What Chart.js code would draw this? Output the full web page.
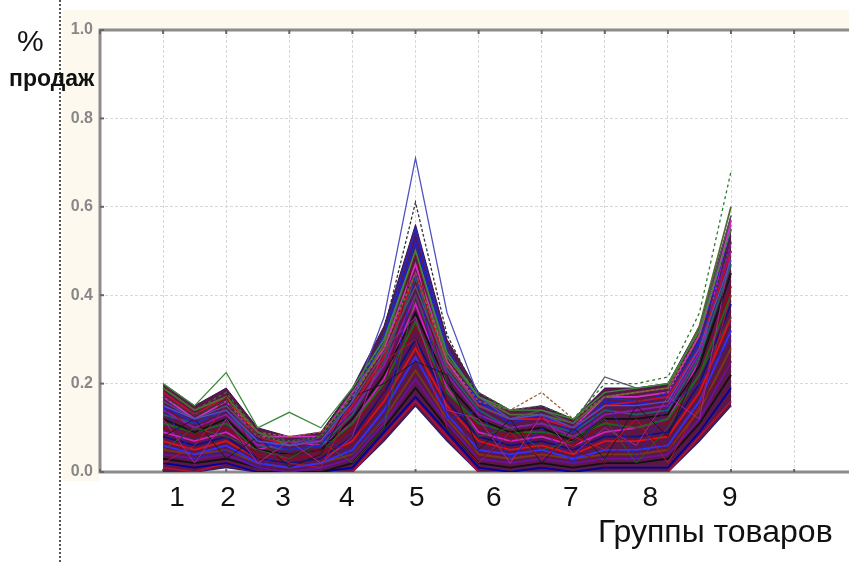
<!doctype html>
<html lang="ru">

<head>
    <meta charset="utf-8">
    <script src="https://cdn.jsdelivr.net/npm/chart.js@4.4.1/dist/chart.umd.min.js"></script>
    <title>% продаж по группам товаров</title>
    <style>
        body { margin: 0; width: 849px; height: 562px; background: #fff; position: relative; overflow: hidden;
               font-family: "Liberation Sans", Arial, sans-serif; }
        .beige { position: absolute; background: #fdf9ee; }
        .dots { position: absolute; left: 59px; top: 0; height: 562px; border-left: 2px dotted #555; }
        .txt { position: absolute; line-height: 1; white-space: nowrap; color: #111; }
        #wrap { position: absolute; left: 0; top: 0; width: 849px; height: 562px; }
    </style>
</head>

<body>
    <div class="beige" style="left:62px;top:10px;width:787px;height:19px"></div>
    <div class="beige" style="left:62px;top:29px;width:37px;height:452px"></div>
    <div class="dots"></div>
    <div id="wrap"><canvas id="myChart" width="849" height="562"></canvas></div>
    <div class="txt" style="left:17px;top:26px;font-size:30px">%</div>
    <div class="txt" style="left:9px;top:67px;font-size:23px;font-weight:bold">продаж</div>
    <div class="txt" style="left:598px;top:515px;font-size:32px">Группы товаров</div>
    <div id="groups"></div>

    <script>
        // positions along x in grid units (gridline 1 = first point, 10 = last)
        var xPos = [1, 1.5, 2, 2.5, 3, 3.5, 4, 4.5, 5, 5.5, 6, 6.5, 7, 7.5, 8, 8.5, 9, 9.5, 10];
        var groupLabels = ['1', '2', '3', '4', '5', '6', '7', '8', '9'];
        var groupLabelPos = [1.22, 2.03, 2.9, 3.91, 5.02, 6.24, 7.46, 8.72, 9.98];
        var yTicks = [0, 0.2, 0.4, 0.6, 0.8, 1.0];

        // outline of the dense bundle
        var bandTop = [0.20, 0.15, 0.19, 0.10, 0.08, 0.09, 0.19, 0.33, 0.56, 0.30, 0.18, 0.14, 0.15, 0.12, 0.19, 0.19, 0.20, 0.33, 0.58];
        var bandBottom = [0.00, 0.00, 0.01, 0.00, 0.00, 0.00, 0.00, 0.07, 0.15, 0.07, 0.00, 0.00, 0.00, 0.00, 0.00, 0.00, 0.00, 0.07, 0.15];

        // individual profiles inside the bundle
        var s1 = [0.18, 0.13, 0.17, 0.08, 0.06, 0.07, 0.15, 0.26, 0.45, 0.24, 0.15, 0.12, 0.12, 0.10, 0.15, 0.16, 0.17, 0.28, 0.50];
        var s2 = [0.16, 0.12, 0.15, 0.07, 0.05, 0.06, 0.17, 0.30, 0.52, 0.27, 0.16, 0.11, 0.13, 0.09, 0.16, 0.15, 0.18, 0.30, 0.55];
        var s3 = [0.14, 0.10, 0.13, 0.06, 0.07, 0.07, 0.14, 0.24, 0.40, 0.22, 0.13, 0.10, 0.11, 0.08, 0.13, 0.14, 0.15, 0.27, 0.52];
        var s4 = [0.12, 0.09, 0.12, 0.05, 0.04, 0.05, 0.12, 0.22, 0.36, 0.20, 0.12, 0.09, 0.10, 0.07, 0.12, 0.12, 0.13, 0.24, 0.45];
        var s5 = [0.10, 0.08, 0.10, 0.04, 0.03, 0.04, 0.10, 0.20, 0.33, 0.18, 0.10, 0.08, 0.09, 0.06, 0.11, 0.11, 0.11, 0.22, 0.42];
        var s6 = [0.09, 0.07, 0.09, 0.05, 0.07, 0.06, 0.11, 0.21, 0.38, 0.19, 0.09, 0.07, 0.08, 0.06, 0.09, 0.10, 0.12, 0.25, 0.57];
        var s7 = [0.08, 0.06, 0.08, 0.03, 0.02, 0.03, 0.08, 0.18, 0.30, 0.16, 0.08, 0.06, 0.07, 0.05, 0.08, 0.08, 0.09, 0.20, 0.38];
        var s8 = [0.11, 0.09, 0.11, 0.05, 0.04, 0.05, 0.11, 0.20, 0.34, 0.18, 0.11, 0.09, 0.09, 0.08, 0.11, 0.10, 0.12, 0.22, 0.40];
        var s9 = [0.07, 0.05, 0.07, 0.03, 0.02, 0.03, 0.07, 0.16, 0.28, 0.15, 0.07, 0.05, 0.06, 0.04, 0.07, 0.07, 0.08, 0.18, 0.35];
        var s10 = [0.06, 0.04, 0.06, 0.02, 0.01, 0.02, 0.05, 0.14, 0.26, 0.13, 0.05, 0.04, 0.05, 0.03, 0.05, 0.05, 0.06, 0.16, 0.32];
        var s11 = [0.05, 0.04, 0.05, 0.02, 0.01, 0.02, 0.04, 0.12, 0.23, 0.12, 0.04, 0.03, 0.04, 0.03, 0.04, 0.04, 0.05, 0.14, 0.28];
        var s12 = [0.04, 0.03, 0.04, 0.01, 0.00, 0.01, 0.03, 0.11, 0.21, 0.11, 0.03, 0.02, 0.03, 0.02, 0.03, 0.03, 0.04, 0.12, 0.25];
        var s13 = [0.03, 0.02, 0.03, 0.01, 0.00, 0.00, 0.02, 0.10, 0.19, 0.10, 0.02, 0.01, 0.02, 0.01, 0.02, 0.02, 0.03, 0.11, 0.22];
        var s14 = [0.02, 0.01, 0.02, 0.00, 0.00, 0.00, 0.01, 0.09, 0.17, 0.09, 0.01, 0.00, 0.01, 0.00, 0.01, 0.01, 0.01, 0.09, 0.19];
        var s15 = [0.01, 0.00, 0.02, 0.00, 0.00, 0.00, 0.00, 0.08, 0.16, 0.08, 0.00, 0.00, 0.00, 0.00, 0.00, 0.00, 0.00, 0.08, 0.16];
        var s16 = [0.13, 0.11, 0.14, 0.06, 0.05, 0.06, 0.13, 0.25, 0.44, 0.23, 0.14, 0.10, 0.11, 0.09, 0.14, 0.13, 0.14, 0.26, 0.47];
        var s17 = [0.15, 0.11, 0.14, 0.07, 0.06, 0.07, 0.16, 0.31, 0.55, 0.28, 0.16, 0.12, 0.13, 0.10, 0.17, 0.16, 0.17, 0.29, 0.50];
        var s18 = [0.17, 0.12, 0.16, 0.08, 0.08, 0.08, 0.18, 0.28, 0.47, 0.25, 0.15, 0.12, 0.12, 0.10, 0.17, 0.17, 0.18, 0.31, 0.56];
        var s19 = [0.19, 0.14, 0.17, 0.09, 0.06, 0.08, 0.17, 0.29, 0.50, 0.26, 0.17, 0.13, 0.13, 0.11, 0.17, 0.18, 0.19, 0.33, 0.60];

        // profiles that cross the others
        var c1 = [0.02, 0.06, 0.15, 0.07, 0.02, 0.01, 0.15, 0.25, 0.30, 0.10, 0.02, 0.09, 0.03, 0.08, 0.05, 0.12, 0.02, 0.15, 0.40];
        var c2 = [0.15, 0.03, 0.05, 0.01, 0.06, 0.08, 0.04, 0.12, 0.45, 0.12, 0.14, 0.03, 0.10, 0.02, 0.17, 0.03, 0.15, 0.20, 0.30];
        var c3 = [0.08, 0.12, 0.03, 0.08, 0.01, 0.04, 0.17, 0.20, 0.25, 0.22, 0.05, 0.12, 0.02, 0.10, 0.03, 0.15, 0.08, 0.25, 0.45];
        var c4 = [0.12, 0.02, 0.12, 0.02, 0.07, 0.02, 0.08, 0.28, 0.35, 0.14, 0.12, 0.02, 0.13, 0.04, 0.10, 0.06, 0.17, 0.12, 0.50];
        var c5 = [0.05, 0.10, 0.08, 0.05, 0.03, 0.07, 0.02, 0.10, 0.40, 0.20, 0.08, 0.10, 0.05, 0.07, 0.12, 0.02, 0.10, 0.22, 0.35];
        var c6 = [0.16, 0.08, 0.17, 0.03, 0.04, 0.05, 0.06, 0.18, 0.50, 0.16, 0.03, 0.07, 0.12, 0.05, 0.02, 0.10, 0.05, 0.15, 0.25];

        // outliers above the bundle
        var greenTop = [0.20, 0.15, 0.225, 0.10, 0.135, 0.10, 0.19, 0.30, 0.50, 0.27, 0.17, 0.14, 0.14, 0.12, 0.18, 0.19, 0.20, 0.32, 0.55];
        var peakHigh = [0.15, 0.12, 0.14, 0.07, 0.06, 0.07, 0.16, 0.35, 0.71, 0.36, 0.17, 0.12, 0.13, 0.10, 0.15, 0.15, 0.16, 0.28, 0.48];
        var peakSecond = [0.17, 0.13, 0.16, 0.08, 0.07, 0.08, 0.17, 0.32, 0.61, 0.31, 0.17, 0.12, 0.13, 0.10, 0.16, 0.16, 0.18, 0.30, 0.52];
        var dashedEnd = [0.19, 0.14, 0.18, 0.09, 0.07, 0.08, 0.18, 0.30, 0.45, 0.26, 0.18, 0.14, 0.15, 0.12, 0.20, 0.20, 0.215, 0.36, 0.68];
        var brownSeven = [0.17, 0.13, 0.16, 0.09, 0.08, 0.09, 0.17, 0.28, 0.45, 0.25, 0.16, 0.14, 0.18, 0.12, 0.17, 0.18, 0.19, 0.31, 0.55];
        var greyEight = [0.16, 0.12, 0.15, 0.08, 0.07, 0.08, 0.16, 0.27, 0.42, 0.24, 0.15, 0.12, 0.14, 0.11, 0.215, 0.19, 0.20, 0.32, 0.58];

        function pts(vals) {
            return vals.map(function (v, i) { return { x: xPos[i], y: v }; });
        }

        var lines = [
            [s19, '#556b2f'], [s1, '#c0102a'], [s18, '#d030c8'], [s2, '#2020d0'], [s17, '#2828b8'],
            [s3, '#8a1ab0'], [s16, '#1f5f6a'], [s4, '#111111'], [s8, '#1a6a1a'], [s5, '#8b0a1a'],
            [s6, '#d020c0'], [s7, '#101080'], [s9, '#e01010'], [s10, '#3030ff'], [s11, '#7a3a10'],
            [s12, '#6a10a0'], [s13, '#111111'], [s14, '#0000a0'], [s15, '#b01030']
        ];
        var crossing = [
            [c1, '#b01828'], [c2, '#2424c0'], [c3, '#1a1a1a'], [c4, '#a02898'], [c5, '#2d5b2d'], [c6, '#800c1c']
        ];
        var outliers = [
            [greenTop, '#3c8c3c', []], [peakHigh, '#5050c0', []], [peakSecond, '#333333', [3, 2]],
            [dashedEnd, '#2f7a2f', [3, 3]], [brownSeven, '#a0603a', [3, 2]], [greyEight, '#555566', []]
        ];

        var datasets = [];
        outliers.forEach(function (o) {
            datasets.push({ data: pts(o[0]), borderColor: o[1], borderWidth: 1.3, borderDash: o[2], order: 0 });
        });
        crossing.forEach(function (l) {
            datasets.push({ data: pts(l[0]), borderColor: l[1], borderWidth: 1, order: 1 });
        });
        lines.forEach(function (l) {
            datasets.push({ data: pts(l[0]), borderColor: l[1], borderWidth: 1.8, order: 1 });
        });
        datasets.push({ data: pts(bandTop), borderColor: '#3a1050', borderWidth: 1, backgroundColor: '#5a1848', fill: '+1', order: 2 });
        datasets.push({ data: pts(bandBottom), borderColor: '#1a1a80', borderWidth: 1.5, order: 2 });

        // plot frame: top, left and bottom lines with small tick marks
        var frame = {
            id: 'frame',
            beforeDatasetsDraw: function (chart) {
                var a = chart.chartArea, c = chart.ctx, x = chart.scales.x, y = chart.scales.y;
                c.save();
                c.strokeStyle = '#8c8c8c';
                c.lineWidth = 3;
                c.beginPath();
                c.moveTo(a.right, a.top); c.lineTo(a.left, a.top);
                c.lineTo(a.left, a.bottom); c.lineTo(a.right, a.bottom);
                c.stroke();
                c.strokeStyle = '#666';
                c.lineWidth = 2;
                x.ticks.forEach(function (t) {
                    var px = x.getPixelForValue(t.value);
                    c.beginPath(); c.moveTo(px, a.top); c.lineTo(px, a.top + 4); c.stroke();
                    c.beginPath(); c.moveTo(px, a.bottom); c.lineTo(px, a.bottom - 3); c.stroke();
                });
                y.ticks.forEach(function (t) {
                    var py = y.getPixelForValue(t.value);
                    c.beginPath(); c.moveTo(a.left, py); c.lineTo(a.left + 4, py); c.stroke();
                });
                c.restore();
            }
        };

        var chart = new Chart(document.getElementById('myChart').getContext('2d'), {
            type: 'line',
            data: { datasets: datasets },
            options: {
                responsive: false,
                animation: false,
                layout: { padding: { top: 30, bottom: 90, left: 0, right: 0 } },
                elements: { point: { radius: 0 }, line: { tension: 0 } },
                plugins: { legend: { display: false }, tooltip: { enabled: false } },
                scales: {
                    x: {
                        type: 'linear', min: 0, max: 11.87,
                        ticks: { display: false, stepSize: 1, includeBounds: false },
                        grid: { color: '#d8d8d8', drawTicks: false },
                        border: { display: false, dash: [3, 2] },
                        afterFit: function (s) { s.height = 0; }
                    },
                    y: {
                        min: 0, max: 1,
                        afterBuildTicks: function (s) { s.ticks = yTicks.map(function (v) { return { value: v }; }); },
                        ticks: {
                            padding: 7, color: '#888888',
                            font: { family: 'Liberation Sans', size: 16, weight: 'bold' },
                            callback: function (v) { return v.toFixed(1); }
                        },
                        grid: { color: '#d8d8d8', drawTicks: false },
                        border: { display: false, dash: [3, 2] },
                        afterFit: function (s) { s.width = 100; }
                    }
                }
            },
            plugins: [frame]
        });

        // group numbers under the axis, placed through the x scale
        var holder = document.getElementById('groups');
        groupLabels.forEach(function (g, i) {
            var d = document.createElement('div');
            d.className = 'txt';
            d.style.fontSize = '28px';
            d.style.top = '483px';
            d.style.left = chart.scales.x.getPixelForValue(groupLabelPos[i]) + 'px';
            d.style.transform = 'translateX(-50%)';
            d.textContent = g;
            holder.appendChild(d);
        });
    </script>
</body>

</html>
